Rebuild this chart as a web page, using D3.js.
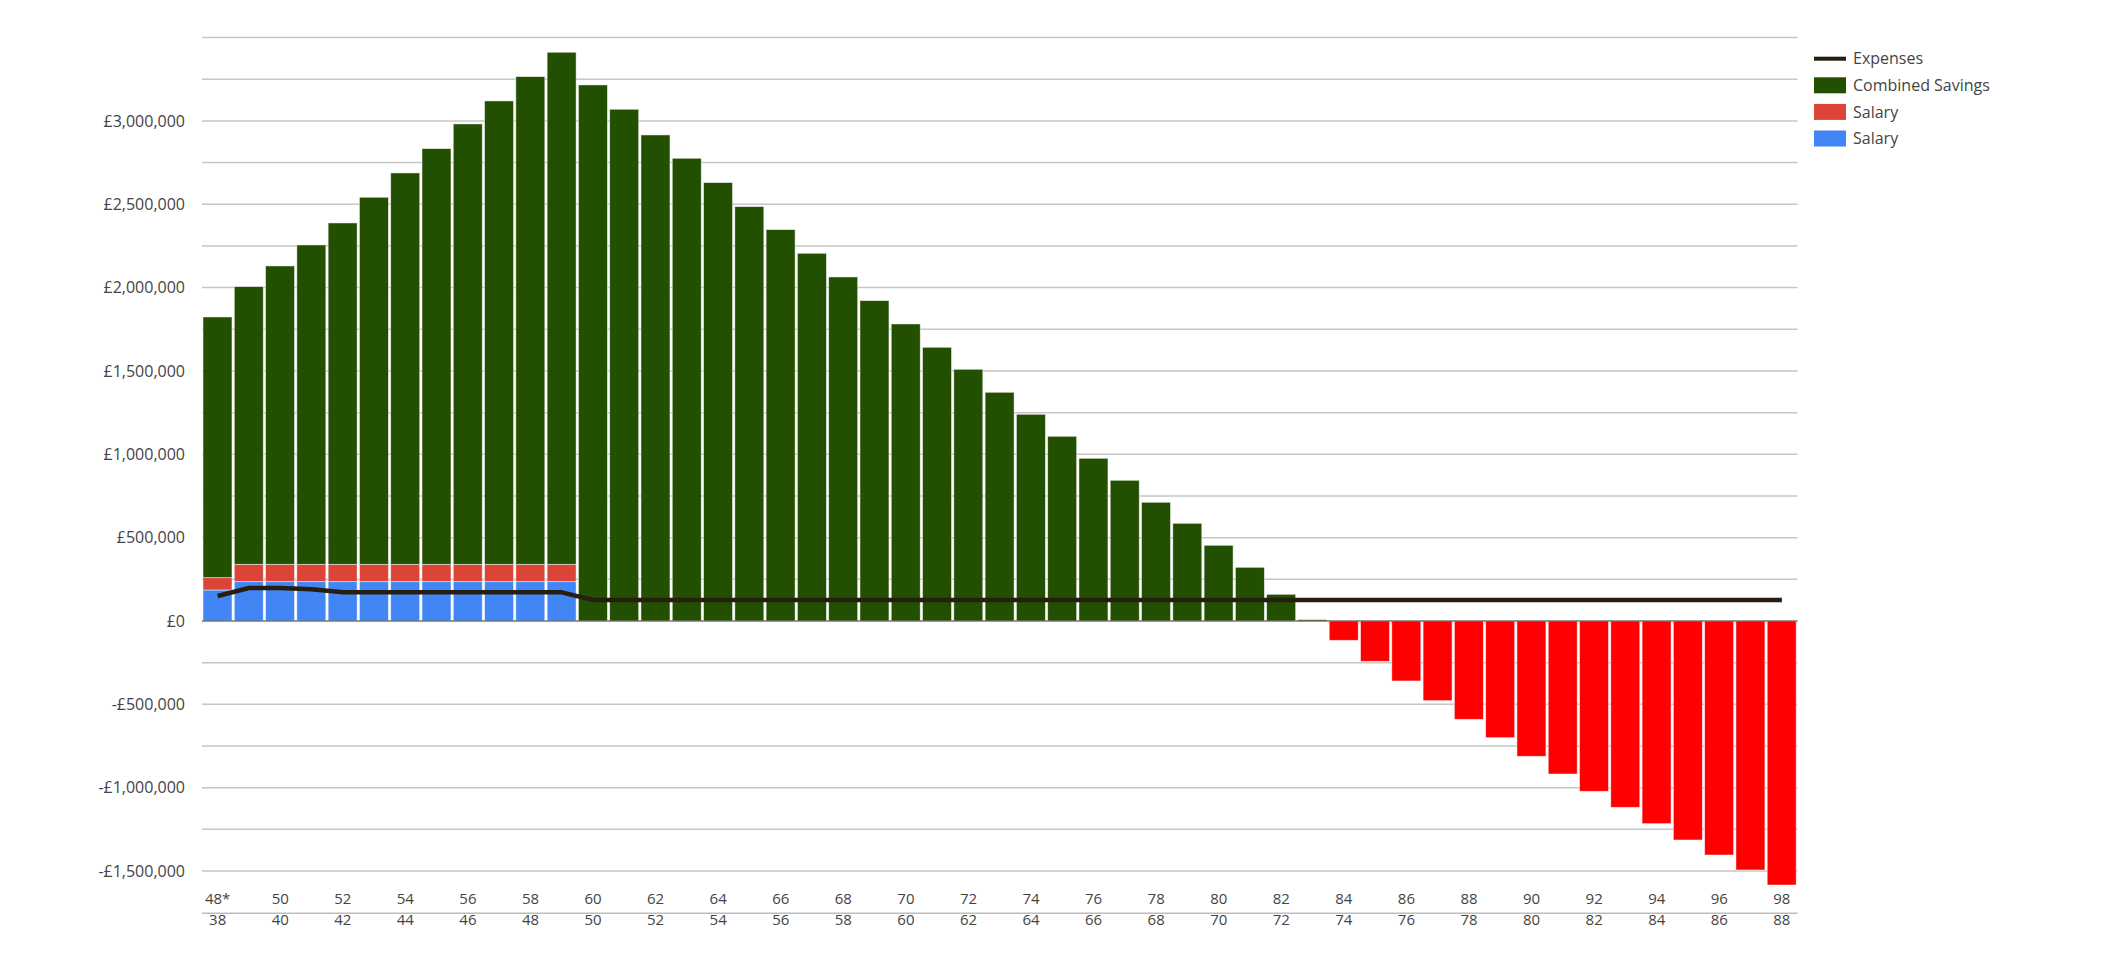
<!DOCTYPE html>
<html>
<head>
<meta charset="utf-8">
<script src="https://cdn.jsdelivr.net/npm/d3@7"></script>
<style>
  html, body { margin: 0; padding: 0; background: #fff; }
  svg { display: block; font-family: "Open Sans", sans-serif; }
</style>
</head>
<body>
<svg id="chart" width="2128" height="974"></svg>
<script>
// ---------- DATA ----------
const ages = ["48*","49","50","51","52","53","54","55","56","57","58","59","60","61","62","63","64","65","66","67","68","69","70","71","72","73","74","75","76","77","78","79","80","81","82","83","84","85","86","87","88","89","90","91","92","93","94","95","96","97","98"];

const salaryBlue = [186000,236000,236000,236000,236000,236000,236000,236000,236000,236000,236000,236000,0,0,0,0,0,0,0,0,0,0,0,0,0,0,0,0,0,0,0,0,0,0,0,0,0,0,0,0,0,0,0,0,0,0,0,0,0,0,0];

const salaryRed = [74000,104000,104000,104000,104000,104000,104000,104000,104000,104000,104000,104000,0,0,0,0,0,0,0,0,0,0,0,0,0,0,0,0,0,0,0,0,0,0,0,0,0,0,0,0,0,0,0,0,0,0,0,0,0,0,0];

const combinedSavings = [1564000,1666000,1790000,1916000,2048000,2202000,2348000,2494000,2642000,2780000,2926000,3072000,
  3216000,3070000,2916000,2776000,2630000,2486000,2348000,2206000,2064000,1922000,1782000,1642000,1510000,1372000,1240000,1108000,976000,844000,712000,586000,454000,322000,160000,8000,
  -116000,-242000,-360000,-478000,-590000,-700000,-812000,-918000,-1022000,-1118000,-1216000,-1314000,-1404000,-1494000,-1584000];

const expenses = [150000,198000,198000,190000,172000,172000,172000,172000,172000,172000,172000,172000,
  126000,126000,126000,126000,126000,126000,126000,126000,126000,126000,126000,126000,126000,126000,126000,126000,126000,126000,126000,126000,126000,126000,126000,126000,126000,126000,126000,126000,126000,126000,126000,126000,126000,126000,126000,126000,126000,126000,126000];

const tickAges1 = ["48*","50","52","54","56","58","60","62","64","66","68","70","72","74","76","78","80","82","84","86","88","90","92","94","96","98"];
const tickAges2 = ["38","40","42","44","46","48","50","52","54","56","58","60","62","64","66","68","70","72","74","76","78","80","82","84","86","88"];

const yTickValues = [-1500000,-1000000,-500000,0,500000,1000000,1500000,2000000,2500000,3000000];
const gridValues = d3.range(-1500000, 3500001, 250000);

const legendItems = [
  {label: "Expenses", color: "#261f0f", type: "line"},
  {label: "Combined Savings", color: "#224f00", type: "rect"},
  {label: "Salary", color: "#db4437", type: "rect"},
  {label: "Salary", color: "#4285f4", type: "rect"}
];

// ---------- CHART ----------
const svg = d3.select("#chart");
const plotLeft = 202, plotRight = 1797.5, plotTop = 37.6, plotBottom = 871;

const x = d3.scaleBand().domain(ages).range([plotLeft, plotRight]).padding(0);
const y = d3.scaleLinear().domain([-1500000, 3500000]).range([plotBottom, plotTop]);

const rows = ages.map((a, i) => ({age: a, blue: salaryBlue[i], red: salaryRed[i], savings: combinedSavings[i]}));
const keys = ["blue", "red", "savings"];
const stacked = d3.stack().keys(keys).offset(d3.stackOffsetDiverging)(rows);

// gridlines
svg.append("g").selectAll("line").data(gridValues).join("line")
  .attr("x1", plotLeft).attr("x2", plotRight)
  .attr("y1", d => y(d)).attr("y2", d => y(d))
  .attr("stroke", "#c6c6c6").attr("stroke-width", 1.5);

// y labels
const fmt = v => (v < 0 ? "-£" : "£") + d3.format(",")(Math.abs(v));
svg.append("g").selectAll("text").data(yTickValues).join("text")
  .attr("x", 185).attr("y", d => y(d)).attr("dy", "0.35em")
  .attr("text-anchor", "end").attr("font-size", 16).attr("fill", "#444")
  .text(fmt);

// bars
const colorFor = (key, d) => {
  if (key === "blue") return "#4285f4";
  if (key === "red") return "#db4437";
  return (d.data.savings < 0) ? "#ff0000" : "#224f00";
};
const bw = x.bandwidth();
stacked.forEach(series => {
  svg.append("g").selectAll("rect").data(series).join("rect")
    .attr("x", d => x(d.data.age) + 1)
    .attr("width", bw - 2.3)
    .attr("y", d => y(Math.max(d[0], d[1])))
    .attr("height", d => Math.abs(y(d[0]) - y(d[1])))
    .attr("fill", d => colorFor(series.key, d))
    .attr("stroke", "rgba(255,255,255,0.6)")
    .attr("stroke-width", 0.8);
});

// zero baseline
svg.append("line")
  .attr("x1", plotLeft).attr("x2", plotRight)
  .attr("y1", y(0)).attr("y2", y(0))
  .attr("stroke", "#555").attr("stroke-width", 1.2);

// expenses line
const line = d3.line()
  .x((d, i) => x(ages[i]) + bw / 2)
  .y(d => y(d));
svg.append("path").datum(expenses)
  .attr("d", line)
  .attr("fill", "none")
  .attr("stroke", "#261f0f")
  .attr("stroke-width", 4.5)
  .attr("stroke-linejoin", "round");

// x axis labels (two rows)
const tickG = svg.append("g").attr("font-size", 15).attr("fill", "#444").attr("text-anchor", "middle");
tickG.selectAll("text.r1").data(tickAges1).join("text").attr("class", "r1")
  .attr("x", d => x(d) + bw / 2).attr("y", 904).text(d => d);
tickG.selectAll("text.r2").data(tickAges2).join("text").attr("class", "r2")
  .attr("x", (d, i) => x(tickAges1[i]) + bw / 2).attr("y", 924.5).text(d => d);

svg.append("line")
  .attr("x1", plotLeft).attr("x2", plotRight)
  .attr("y1", 913.3).attr("y2", 913.3)
  .attr("stroke", "#bdbdbd").attr("stroke-width", 1.5);

// legend
const lg = svg.append("g");
legendItems.forEach((item, i) => {
  const cy = 58.7 + i * 26.6;
  if (item.type === "line") {
    lg.append("rect").attr("x", 1814).attr("y", cy - 2).attr("width", 32).attr("height", 4).attr("fill", item.color);
  } else {
    lg.append("rect").attr("x", 1814).attr("y", cy - 8).attr("width", 32).attr("height", 16).attr("fill", item.color);
  }
  lg.append("text").attr("x", 1853).attr("y", cy).attr("dy", "0.35em")
    .attr("font-size", 16).attr("fill", "#444").text(item.label);
});
</script>
</body>
</html>
